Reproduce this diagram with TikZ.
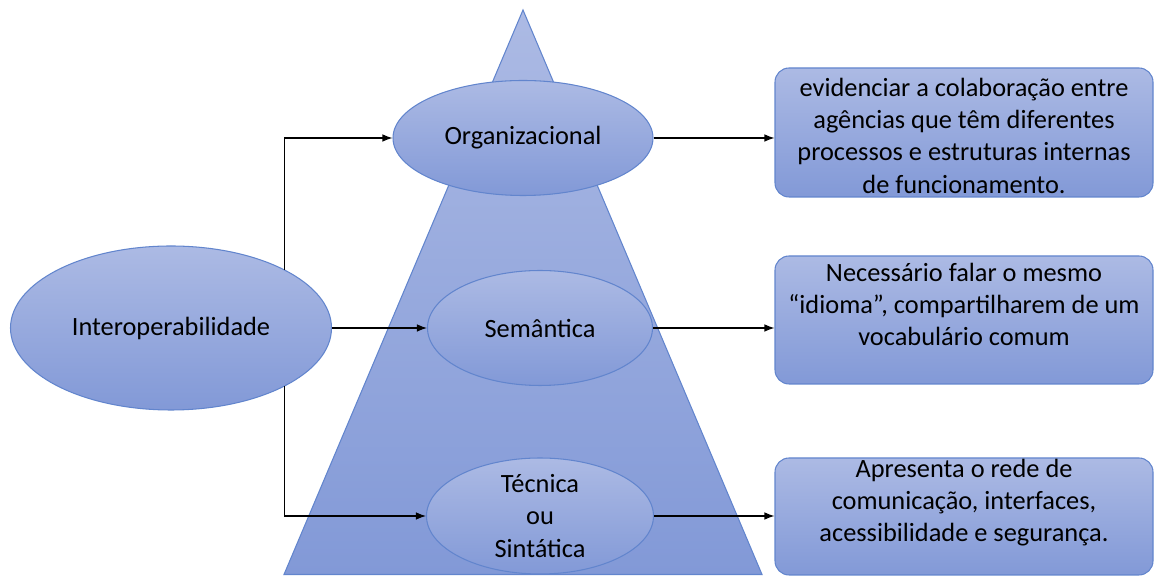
\documentclass[tikz,border=0pt]{standalone}
\usepackage{fontspec}
\setmainfont{Carlito}
\usetikzlibrary{shapes,arrows.meta,positioning,calc}
\usepackage{xcolor}
\definecolor{shadetop}{RGB}{172,186,228}
\definecolor{shadebottom}{RGB}{130,153,215}
\definecolor{edgeblue}{RGB}{98,133,205}

\begin{document}
\begin{tikzpicture}[
    font=\fontsize{15}{18.4}\selectfont,
    levelshade/.style={top color=shadetop, bottom color=shadebottom, draw=edgeblue, line width=0.6pt},
    level/.style={levelshade, ellipse, inner sep=0pt, align=center},
    infobox/.style={levelshade, rounded corners=8pt, minimum width=7.56cm},
    infotext/.style={align=center, inner sep=0pt},
    link/.style={-{Latex[length=2mm,width=1.5mm]}, line width=0.6pt}
]
    \useasboundingbox (0,0) rectangle (23.14,11.52);

    % pyramid behind the three levels
    \path[levelshade] (10.46,11.32) -- (15.24,0.03) -- (5.68,0.03) -- cycle;

    \node[level, minimum width=6.42cm, minimum height=3.28cm] (inter) at (3.42,4.96) {Interoperabilidade};
    \node[level, minimum width=5.2cm, minimum height=2.3cm] (org) at (10.46,8.76) {Organizacional};
    \node[level, minimum width=4.5cm, minimum height=2.3cm] (sem) at (10.8,4.96) {Semântica};
    \node[level, minimum width=4.54cm, minimum height=2.32cm,
        label={[infotext]center:Técnica\\ou\\Sintática}] (tec) at (10.8,1.2) {};

    \node[infobox, minimum height=2.58cm] (boxorg) at (19.28,8.87) {};
    \node[infobox, minimum height=2.56cm] (boxsem) at (19.28,5.12) {};
    \node[infobox, minimum height=2.34cm] (boxtec) at (19.28,1.19) {};

    \node[infotext] (txtorg) at ([yshift=-0.06cm]boxorg.center) {evidenciar a colaboração entre\\agências que têm diferentes\\processos e estruturas internas\\de funcionamento.};
    \node[infotext] (txtsem) at ([yshift=0.31cm]boxsem.center) {Necessário falar o mesmo\\“idioma”, compartilharem de um\\vocabulário comum};
    \node[infotext] (txttec) at ([yshift=0.28cm]boxtec.center) {Apresenta o rede de\\comunicação, interfaces,\\acessibilidade e segurança.};

    % links
    \draw[link] (inter.north east) |- (org.west);
    \draw[link] (inter.east) -- (sem.west);
    \draw[link] (inter.south east) |- (tec.west);
    \draw[link] (org.east) -- (org.east -| boxorg.west);
    \draw[link] (sem.east) -- (sem.east -| boxsem.west);
    \draw[link] (tec.east) -- (tec.east -| boxtec.west);
\end{tikzpicture}
\end{document}
